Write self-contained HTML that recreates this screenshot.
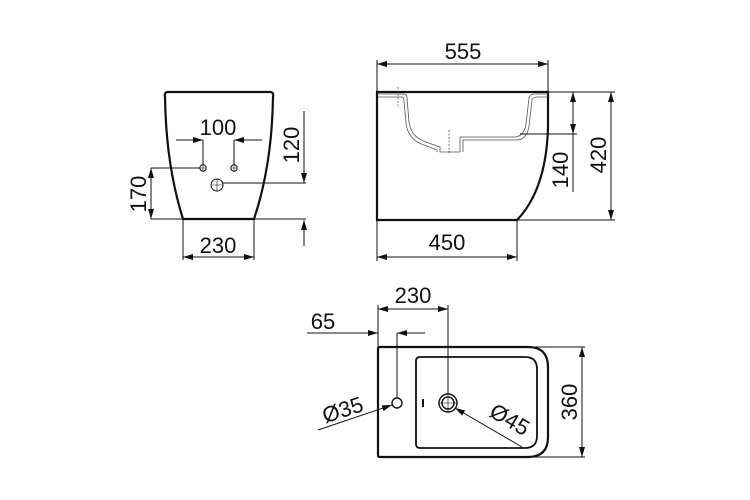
<!DOCTYPE html>
<html><head><meta charset="utf-8"><style>
html,body{margin:0;padding:0;background:#fff;}
svg{display:block;}
text{font-family:"Liberation Sans",Arial,sans-serif;font-size:22px;fill:#111;stroke:none;}
</style></head><body>
<svg width="750" height="500" viewBox="0 0 750 500" xmlns="http://www.w3.org/2000/svg">
<defs>
<marker id="a" viewBox="0 0 10 6" refX="10" refY="3" markerWidth="10" markerHeight="6" orient="auto-start-reverse" markerUnits="userSpaceOnUse">
<path d="M0,0 L10,3 L0,6 Z" fill="#111" stroke="none"/></marker>
</defs>
<g fill="none" stroke="#111" stroke-width="1">
<!-- FRONT VIEW -->
<path d="M168,92 L270,92 Q274,92 273,97 Q272,165 254,219 L183,219 Q166,165 165,97 Q164,92 168,92 Z" stroke-width="2.2"/>
<circle cx="203" cy="168" r="3.2"/><circle cx="234" cy="168" r="3.2"/>
<circle cx="217" cy="185" r="6"/>
<path d="M217,179v12M211,185h12M203,165v6M200,168h6M234,165v6M231,168h6" stroke-width="0.6"/>
<path d="M203,165V140M234,165V140"/>
<line x1="176" y1="140" x2="203" y2="140" marker-end="url(#a)"/>
<line x1="262" y1="140" x2="234" y2="140" marker-end="url(#a)"/>
<text x="218" y="135" text-anchor="middle">100</text>
<line x1="304" y1="111" x2="304" y2="183" marker-end="url(#a)"/>
<line x1="223" y1="183" x2="306" y2="183"/>
<line x1="304" y1="246" x2="304" y2="220" marker-end="url(#a)"/>
<line x1="151" y1="219" x2="306" y2="219"/>
<text transform="translate(299,145) rotate(-90)" text-anchor="middle">120</text>
<line x1="151" y1="168" x2="200" y2="168"/>
<line x1="151" y1="168" x2="151" y2="219" marker-start="url(#a)" marker-end="url(#a)"/>
<text transform="translate(146,194) rotate(-90)" text-anchor="middle">170</text>
<path d="M183,219V260M254,219V260"/>
<line x1="183" y1="257" x2="254" y2="257" marker-start="url(#a)" marker-end="url(#a)"/>
<text x="218" y="253" text-anchor="middle">230</text>

<!-- SIDE VIEW -->
<path d="M377,92 L548,92 L548,128 Q546,190 517,220 L377,220 Z" stroke-width="2.2"/>
<g stroke="#555" stroke-width="0.8">
<path d="M378,94 L404,94 Q407,94 407,98 L409,122 Q411,137 426,142 L440,147 L440,152 L460,152 L460,137 L514,137 Q524,137 526,124 L529,98 Q530,94 534,94 L548,94"/>
<path d="M378,97 L402,97 Q404,97 404,101 L406,123 Q408,140 424,145 L437,150 L437,152"/>
<path d="M463,152 L463,140 L516,140 Q527,140 529,126 L532,100 Q533,97 537,97 L548,97"/>
<path d="M398,87v20M449,130v24" stroke-dasharray="2,1.5"/>
</g>
<path d="M377,92V60M548,92V60"/>
<line x1="377" y1="64" x2="548" y2="64" marker-start="url(#a)" marker-end="url(#a)"/>
<text x="463" y="59" text-anchor="middle">555</text>
<line x1="548" y1="92" x2="615" y2="92"/>
<line x1="517" y1="220" x2="615" y2="220"/>
<line x1="611" y1="92" x2="611" y2="220" marker-start="url(#a)" marker-end="url(#a)"/>
<text transform="translate(606,155) rotate(-90)" text-anchor="middle">420</text>
<line x1="520" y1="134" x2="577" y2="134"/>
<line x1="573" y1="92" x2="573" y2="192"/>
<line x1="573" y1="108" x2="573" y2="92" marker-end="url(#a)"/>
<line x1="573" y1="118" x2="573" y2="134" marker-end="url(#a)"/>
<text transform="translate(568,170) rotate(-90)" text-anchor="middle">140</text>
<path d="M377,220V261M517,220V261"/>
<line x1="377" y1="257" x2="517" y2="257" marker-start="url(#a)" marker-end="url(#a)"/>
<text x="447" y="250" text-anchor="middle">450</text>

<!-- TOP VIEW -->
<path d="M380,347 L528,347 Q548,347 548,367 L548,437 Q548,457 528,457 L380,457 Q378,457 378,455 L378,349 Q378,347 380,347 Z" stroke-width="2.2"/>
<path d="M420,357 L525,357 Q537,357 537,369 L537,436 Q537,448 525,448 L420,448 Q416,448 416,444 L416,361 Q416,357 420,357 Z" stroke-width="1.8"/>
<circle cx="397" cy="403" r="5" stroke-width="1.4"/>
<circle cx="448" cy="403" r="9" stroke-width="1.4"/>
<circle cx="448" cy="403" r="6" stroke-width="1.4"/>
<path d="M438,403h20M448,393v20" stroke-width="0.6"/>
<path d="M423,399v8" stroke-width="2"/>
<path d="M378,347V305M448,394V305"/>
<line x1="378" y1="309" x2="448" y2="309" marker-start="url(#a)" marker-end="url(#a)"/>
<text x="413" y="303" text-anchor="middle">230</text>
<line x1="307" y1="333" x2="378" y2="333" marker-end="url(#a)"/>
<line x1="425" y1="333" x2="397" y2="333" marker-end="url(#a)"/>
<line x1="397" y1="333" x2="397" y2="398"/>
<text x="323" y="329" text-anchor="middle">65</text>
<line x1="318" y1="430" x2="392" y2="405" marker-end="url(#a)"/>
<text transform="translate(345,417) rotate(-18)" text-anchor="middle">Ø35</text>
<line x1="522" y1="447" x2="455" y2="408" marker-end="url(#a)"/>
<text transform="translate(506,426) rotate(30)" text-anchor="middle">Ø45</text>
<path d="M535,347H585M535,457H585"/>
<line x1="582" y1="347" x2="582" y2="457" marker-start="url(#a)" marker-end="url(#a)"/>
<text transform="translate(577,402) rotate(-90)" text-anchor="middle">360</text>
</g>
</svg>
</body></html>
